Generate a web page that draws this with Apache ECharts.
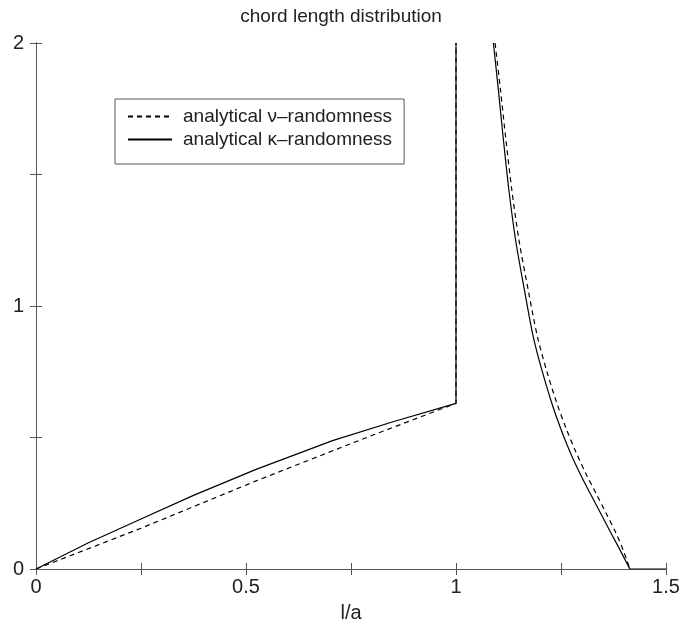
<!DOCTYPE html>
<html>
<head>
<meta charset="utf-8">
<script src="https://cdn.jsdelivr.net/npm/echarts@6/dist/echarts.min.js"></script>
<style>
html, body { margin: 0; padding: 0; background: #fff; }
#main { width: 682px; height: 621px; }
</style>
</head>
<body>
<div id="main"></div>
<script>
var nuName = 'analytical \u03bd\u2013randomness';
var kappaName = 'analytical \u03ba\u2013randomness';

// l/a < 1 branch (ends with the vertical jump at l/a = 1)
var nuRiseX = [0, 0.25, 0.524, 0.771, 1, 1];
var nuRiseY = [0, 0.155, 0.335, 0.49, 0.63, 2];
var kappaRiseX = [0, 0.125, 0.25, 0.375, 0.524, 0.706, 0.85, 1, 1];
var kappaRiseY = [0, 0.1, 0.19, 0.28, 0.379, 0.488, 0.56, 0.63, 2];

// 1 < l/a < sqrt(2) branch
var nuFallX = [1.093, 1.106, 1.119, 1.133, 1.150, 1.172, 1.194, 1.216, 1.239, 1.262, 1.285, 1.310, 1.334, 1.358, 1.380, 1.399, 1.414];
var nuFallY = [2.0, 1.82, 1.63, 1.44, 1.25, 1.06, 0.883, 0.753, 0.636, 0.535, 0.447, 0.36, 0.286, 0.21, 0.14, 0.068, 0];
var kappaFallX = [1.089, 1.101, 1.113, 1.126, 1.142, 1.163, 1.184, 1.205, 1.227, 1.249, 1.271, 1.296, 1.320, 1.345, 1.368, 1.392, 1.414];
var kappaFallY = [2.0, 1.82, 1.63, 1.44, 1.25, 1.06, 0.883, 0.753, 0.636, 0.535, 0.447, 0.36, 0.286, 0.21, 0.14, 0.068, 0];

// zero beyond the diagonal
var tailX = [1.414, 1.5];
var tailY = [0, 0];

function zip(xs, ys) {
    return xs.map(function (x, i) { return [x, ys[i]]; });
}

var myChart = echarts.init(document.getElementById('main'));

var axisColor = '#555';
var font = 'Liberation Sans';

var dashStyle = { color: '#000', width: 1.2, type: [5, 4] };
var solidStyle = { color: '#000', width: 1.2, type: 'solid' };

function curve(name, style, points, smooth) {
    return {
        name: name,
        type: 'line',
        showSymbol: false,
        symbol: 'none',
        smooth: smooth,
        lineStyle: style,
        itemStyle: { color: '#000' },
        data: points
    };
}

option = {
    animation: false,
    title: {
        text: 'chord length distribution',
        left: 'center',
        top: 2,
        textStyle: { color: '#222', fontSize: 19, fontWeight: 'normal', fontFamily: font }
    },
    legend: {
        orient: 'vertical',
        left: 115,
        top: 99,
        data: [nuName, kappaName],
        borderColor: axisColor,
        borderWidth: 1,
        padding: [8, 12, 15, 12],
        itemWidth: 44,
        itemHeight: 14,
        itemGap: 4,
        itemStyle: { opacity: 0 },
        textStyle: { color: '#222', fontSize: 19, fontFamily: font, padding: [0, 0, 0, 6] }
    },
    grid: { left: 36, right: 16, top: 43, bottom: 52, outerBoundsMode: 'none' },
    xAxis: [
        {
            type: 'value',
            min: 0,
            max: 1.5,
            interval: 0.25,
            name: 'l/a',
            nameLocation: 'middle',
            nameGap: 34,
            nameTextStyle: { color: '#222', fontSize: 20, fontFamily: font },
            axisLine: { lineStyle: { color: axisColor } },
            axisTick: { inside: true, length: 6, lineStyle: { color: axisColor } },
            axisLabel: {
                margin: 8,
                color: '#222', fontSize: 20, fontFamily: font,
                formatter: function (v) {
                    return Math.abs(v * 2 - Math.round(v * 2)) < 1e-6 ? String(v) : '';
                }
            },
            splitLine: { show: false }
        },
        {
            type: 'value',
            position: 'top',
            min: 0,
            max: 1.5,
            interval: 0.25,
            axisLine: { show: true, lineStyle: { color: axisColor } },
            axisTick: { inside: true, length: 6, lineStyle: { color: axisColor } },
            axisLabel: { show: false },
            splitLine: { show: false }
        }
    ],
    yAxis: [
        {
            type: 'value',
            min: 0,
            max: 2,
            interval: 0.5,
            axisLine: { show: true, lineStyle: { color: axisColor } },
            axisTick: { show: true, inside: true, length: 6, lineStyle: { color: axisColor } },
            axisLabel: {
                margin: 12,
                color: '#222', fontSize: 20, fontFamily: font,
                formatter: function (v) {
                    return Math.abs(v - Math.round(v)) < 1e-6 ? String(v) : '';
                }
            },
            splitLine: { show: false }
        },
        {
            type: 'value',
            position: 'right',
            min: 0,
            max: 2,
            interval: 0.5,
            axisLine: { show: true, lineStyle: { color: axisColor } },
            axisTick: { show: true, inside: true, length: 6, lineStyle: { color: axisColor } },
            axisLabel: { show: false },
            splitLine: { show: false }
        }
    ],
    series: [
        curve(nuName, dashStyle, zip(nuRiseX, nuRiseY), false),
        curve(kappaName, solidStyle, zip(kappaRiseX, kappaRiseY), false),
        curve(nuName, dashStyle, zip(nuFallX, nuFallY), 0.3),
        curve(kappaName, solidStyle, zip(kappaFallX, kappaFallY), 0.3),
        curve(kappaName, solidStyle, zip(tailX, tailY), false)
    ]
};

myChart.setOption(option);
</script>
</body>
</html>
